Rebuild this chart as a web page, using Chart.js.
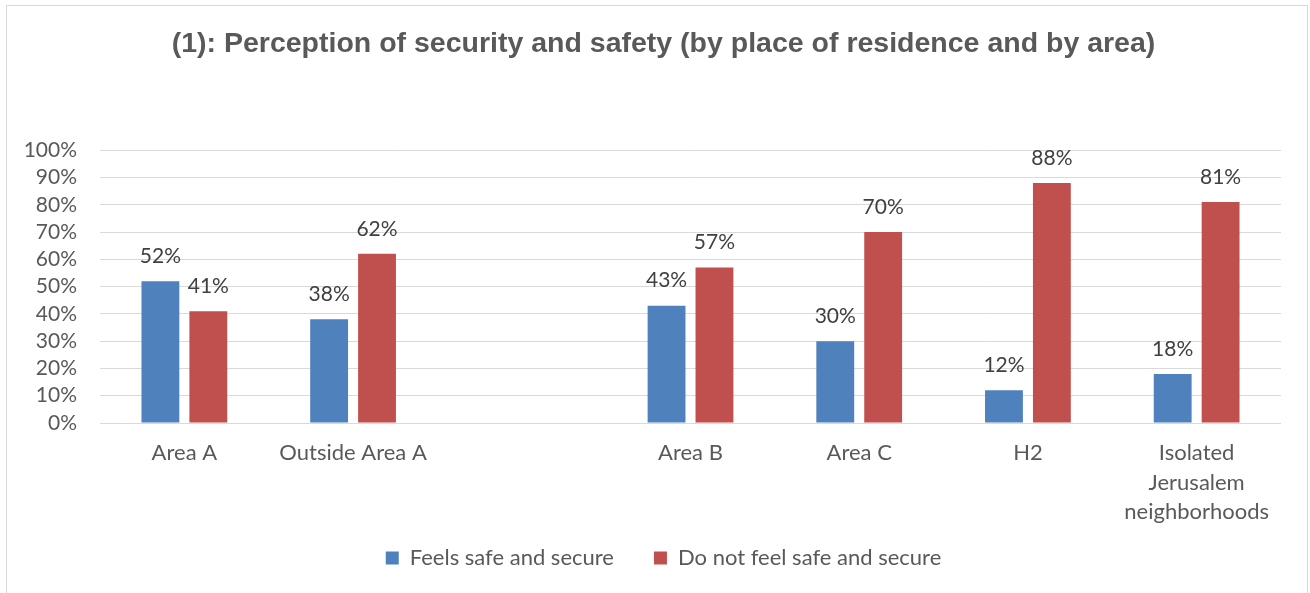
<!DOCTYPE html>
<html>
<head>
<meta charset="utf-8">
<script src="https://cdn.jsdelivr.net/npm/chart.js@4"></script>
<style>
  html, body { margin: 0; padding: 0; background: #fff; }
  canvas { display: block; }
</style>
</head>
<body>
<canvas id="chart" width="1310" height="593"></canvas>
<script>
// categories (the empty one is a spacer, as in the original sheet)
const categories = ['Area A', 'Outside Area A', '', 'Area B', 'Area C', 'H2', ['Isolated', 'Jerusalem', 'neighborhoods']]
const feelsSafe = [52, 38, null, 43, 30, 12, 18]
const notSafe = [41, 62, null, 57, 70, 88, 81]
const yTicks = [0, 10, 20, 30, 40, 50, 60, 70, 80, 90, 100]

const txt = '#595959'
const font = 'Lato'

// little frame round the whole chart
const frame = {
  id: 'frame',
  beforeDraw(chart) {
    const ctx = chart.ctx
    ctx.save()
    ctx.fillStyle = '#fff'
    ctx.fillRect(0, 0, chart.width, chart.height)
    ctx.strokeStyle = '#D9D9D9'
    ctx.lineWidth = 1
    ctx.strokeRect(6.5, 5.5, 1301, 620)
    ctx.restore()
  }
}

// value labels above each bar
const valueLabels = {
  id: 'valueLabels',
  afterDatasetsDraw(chart) {
    const ctx = chart.ctx
    ctx.save()
    ctx.font = '21px ' + font
    ctx.fillStyle = '#404040'
    ctx.textAlign = 'center'
    ctx.textBaseline = 'middle'
    chart.data.datasets.forEach((ds, i) => {
      chart.getDatasetMeta(i).data.forEach((bar, j) => {
        const v = ds.data[j]
        if (v == null) return
        ctx.fillText(v + '%', bar.x, bar.y - 25)
      })
    })
    ctx.restore()
  }
}

new Chart(document.getElementById('chart'), {
  type: 'bar',
  data: {
    labels: categories,
    datasets: [
      { label: 'Feels safe and secure', data: feelsSafe, backgroundColor: '#4F81BD' },
      { label: 'Do not feel safe and secure', data: notSafe, backgroundColor: '#C0504D' }
    ]
  },
  options: {
    responsive: false,
    devicePixelRatio: 1,
    animation: false,
    categoryPercentage: 0.568,
    barPercentage: 0.79,
    layout: { padding: { left: 46, right: 29, top: 0, bottom: 14 } },
    plugins: {
      title: {
        display: true,
        text: '(1): Perception of security and safety (by place of residence and by area)',
        color: txt,
        font: { family: 'Liberation Sans', size: 28.5, weight: 'bold' },
        padding: { top: 27, bottom: 89 }
      },
      legend: {
        position: 'bottom',
        labels: {
          color: txt,
          font: { family: font, size: 22 },
          boxWidth: 13,
          boxHeight: 13,
          padding: 40
        }
      },
      tooltip: { enabled: false }
    },
    scales: {
      x: {
        // squeeze the axis box so the legend sits close; let the 3-line label run past it
        afterFit: s => { s.height = 84; s._computeLabelArea = () => undefined },
        grid: { display: false },
        border: { display: false },
        ticks: { color: txt, font: { family: font, size: 22, lineHeight: 1.35 }, padding: 7, maxRotation: 0, autoSkip: false }
      },
      y: {
        min: 0,
        max: 100,
        afterBuildTicks: s => { s.ticks = yTicks.map(v => ({ value: v })) },
        afterFit: s => { s.width = 54; s._computeLabelArea = () => undefined },
        grid: { color: '#D9D9D9', lineWidth: 1, drawTicks: false },
        border: { display: false },
        ticks: { color: txt, font: { family: font, size: 21 }, padding: 23, autoSkip: false, callback: v => v + '%' }
      }
    }
  },
  plugins: [frame, valueLabels]
})
</script>
</body>
</html>
